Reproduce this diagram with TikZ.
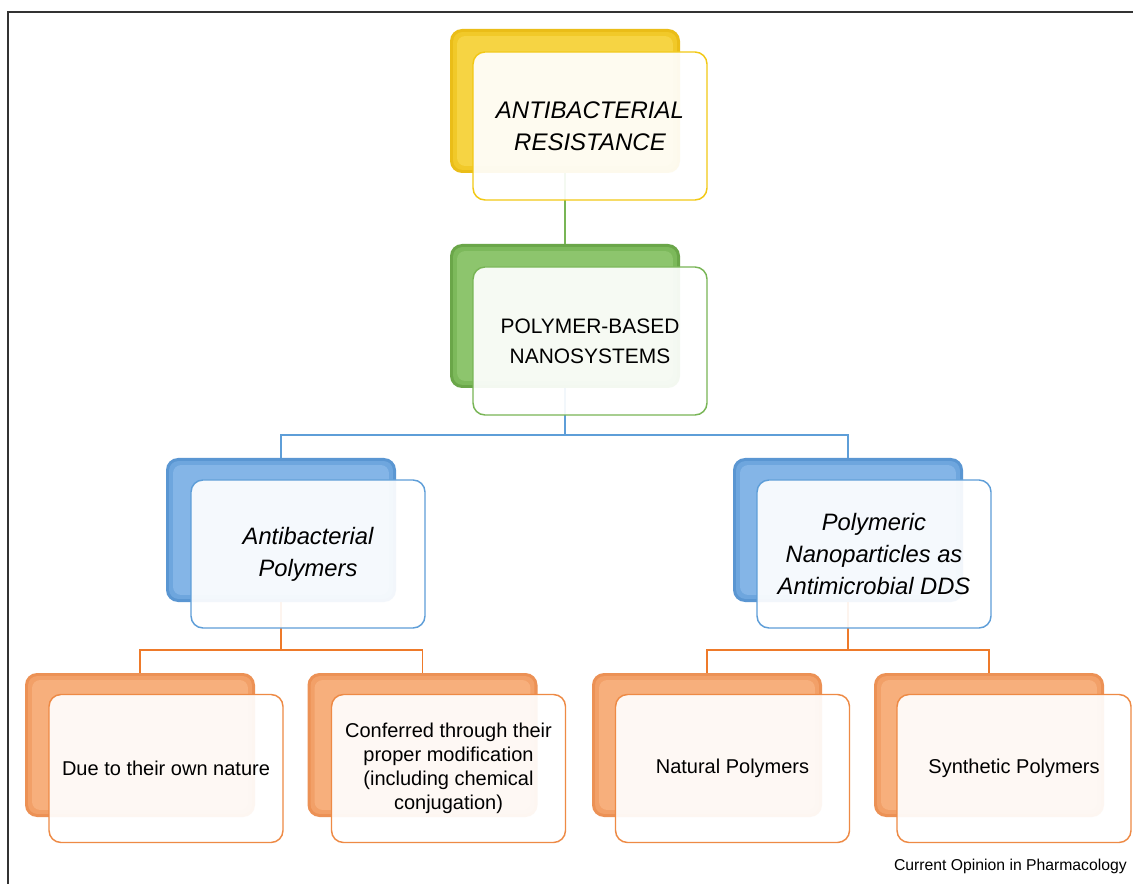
\documentclass[tikz,border=0pt]{standalone}
\usepackage{fontspec}
\setmainfont{Liberation Sans}
\definecolor{yDark}{HTML}{EABD18}
\definecolor{yMid}{HTML}{F1C929}
\definecolor{yLight}{HTML}{F6D443}
\definecolor{yBorder}{HTML}{F2C814}
\definecolor{gDark}{HTML}{6AA649}
\definecolor{gMid}{HTML}{7CB95B}
\definecolor{gLight}{HTML}{8DC56D}
\definecolor{gBorder}{HTML}{78B555}
\definecolor{bDark}{HTML}{5A96D2}
\definecolor{bMid}{HTML}{6EA6DE}
\definecolor{bLight}{HTML}{84B5E7}
\definecolor{bBorder}{HTML}{5E9ED8}
\definecolor{oDark}{HTML}{EC9155}
\definecolor{oMid}{HTML}{F2A068}
\definecolor{oLight}{HTML}{F7AF7C}
\definecolor{oBorder}{HTML}{EE8A45}
\definecolor{oLine}{HTML}{EE7A2A}
\newcommand\bevelbox[3]{%
  \fill[#2, rounded corners=7pt] ([shift={(2.5pt,-2.5pt)}]#1.north west) rectangle ([shift={(-2.5pt,2.5pt)}]#1.south east);
  \fill[#3, rounded corners=6pt] ([shift={(5.5pt,-5.5pt)}]#1.north west) rectangle ([shift={(-5.5pt,5.5pt)}]#1.south east);}
\begin{document}
\begin{tikzpicture}[x=0.75pt,y=-0.75pt,
  backbox/.style={rectangle, rounded corners=9pt, minimum width=172.5pt, minimum height=108pt, inner sep=0pt, fill=#1},
  frontbox/.style={rectangle, rounded corners=9pt, minimum width=175.5pt, minimum height=111pt, inner sep=0pt,
    draw=#1, line width=1.1pt, fill=white, fill opacity=0.92, text opacity=1, draw opacity=1, align=center},
  toptext/.style={font=\fontsize{18}{24}\selectfont\itshape},
  midtext/.style={font=\fontsize{15.7}{22.5}\selectfont},
  bluetext/.style={font=\fontsize{17.8}{23.8}\selectfont\itshape},
  lowtext/.style={font=\fontsize{15}{18}\selectfont},
  conn/.style={line width=1.1pt, draw=#1},
]
\useasboundingbox (0,0) rectangle (1133,884);
\fill[white] (0,0) rectangle (1133,884);
% frame
\draw[line width=1.4pt, draw=black!80] (1133,12) -- (8,12) -- (8,884);

% back boxes
\node[backbox=yDark] (yb) at (565,101) {};
\node[backbox=gDark] (gb) at (565,316) {};
\node[backbox=bDark] (blb) at (281,530) {};
\node[backbox=bDark] (brb) at (848,530) {};
\node[backbox=oDark] (o1b) at (140,745) {};
\node[backbox=oDark] (o2b) at (422.5,745) {};
\node[backbox=oDark] (o3b) at (707,745) {};
\node[backbox=oDark] (o4b) at (989,745) {};

% connectors
\coordinate (j1) at (565,435);
\coordinate (j2) at (281,650);
\coordinate (j3) at (848,650);
\draw[conn=gBorder] (yb.south) -- (gb.north);
\draw[conn=bBorder] (gb.south) -- (j1);
\draw[conn=bBorder] (j1) -| (blb.north);
\draw[conn=bBorder] (j1) -| (brb.north);
\draw[conn=oLine] (blb.south) -- (j2);
\draw[conn=oLine] (j2) -| (o1b.north);
\draw[conn=oLine] (j2) -| (o2b.north);
\draw[conn=oLine] (brb.south) -- (j3);
\draw[conn=oLine] (j3) -| (o3b.north);
\draw[conn=oLine] (j3) -| (o4b.north);

% bevels
\bevelbox{yb}{yMid}{yLight}
\bevelbox{gb}{gMid}{gLight}
\bevelbox{blb}{bMid}{bLight}
\bevelbox{brb}{bMid}{bLight}
\bevelbox{o1b}{oMid}{oLight}
\bevelbox{o2b}{oMid}{oLight}
\bevelbox{o3b}{oMid}{oLight}
\bevelbox{o4b}{oMid}{oLight}

% front boxes
\node[frontbox=yBorder, toptext] (yf) at (590,126) {ANTIBACTERIAL\\RESISTANCE};
\node[frontbox=gBorder, midtext] (gf) at (590,341) {POLYMER-BASED\\NANOSYSTEMS};
\node[frontbox=bBorder, bluetext] (blf) at (308,554) {Antibacterial\\Polymers};
\node[frontbox=bBorder, bluetext] (brf) at (874,554) {Polymeric\\Nanoparticles as\\Antimicrobial DDS};
\node[frontbox=oBorder, lowtext] (o1f) at (166,768.5) {Due to their own nature};
\node[frontbox=oBorder, lowtext] (o2f) at (448.5,768.5) {Conferred through their\\proper modification\\(including chemical\\conjugation)};
\node[frontbox=oBorder, lowtext] (o3f) at (732.5,768.5) {Natural Polymers};
\node[frontbox=oBorder, lowtext] (o4f) at (1014,768.5) {Synthetic Polymers};

% caption
\node[anchor=base east, inner sep=0pt, font=\fontsize{11.8}{14}\selectfont] (cap) at (1127,870) {Current Opinion in Pharmacology};
\end{tikzpicture}
\end{document}
